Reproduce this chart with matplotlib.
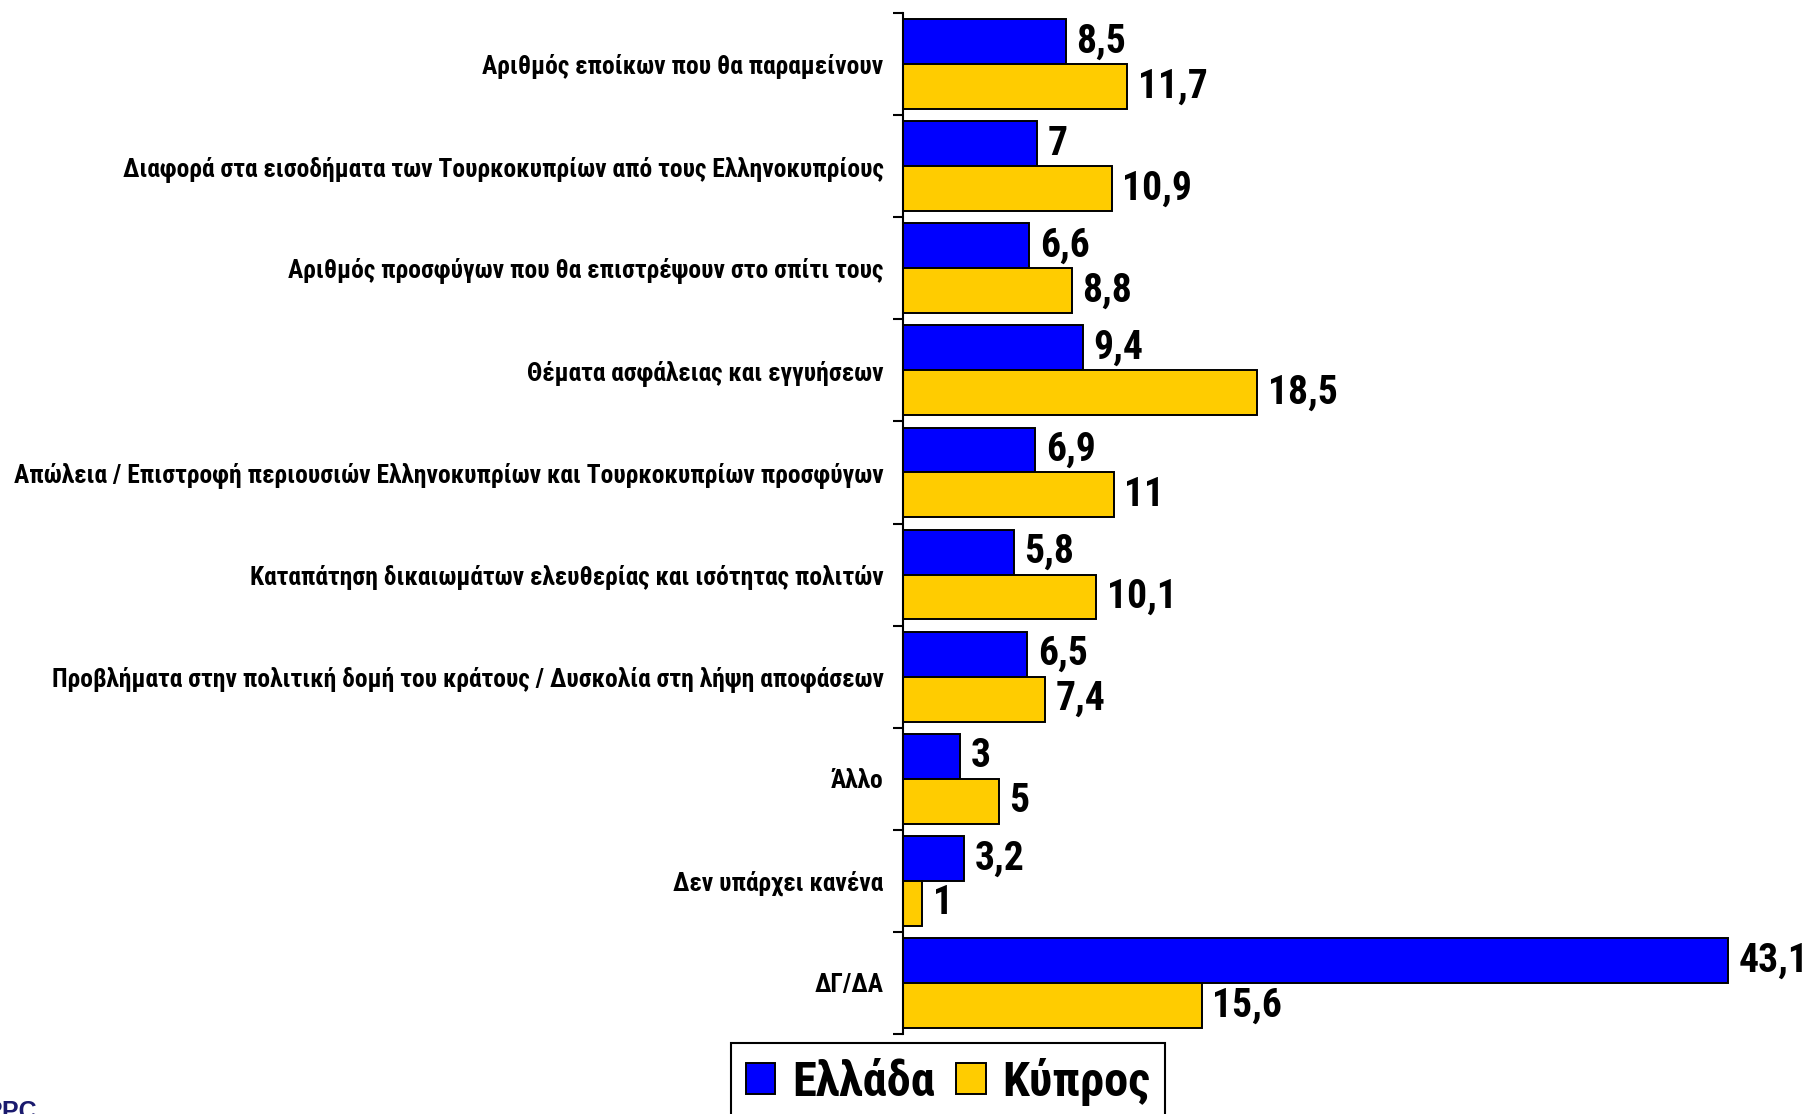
import matplotlib
matplotlib.use("Agg")
import matplotlib.pyplot as plt
import numpy as np
from matplotlib.patches import Patch

categories = [
    "Αριθμός εποίκων που θα παραμείνουν",
    "Διαφορά στα εισοδήματα των Τουρκοκυπρίων από τους Ελληνοκυπρίους",
    "Αριθμός προσφύγων που θα επιστρέψουν στο σπίτι τους",
    "Θέματα ασφάλειας και εγγυήσεων",
    "Απώλεια / Επιστροφή περιουσιών Ελληνοκυπρίων και Τουρκοκυπρίων προσφύγων",
    "Καταπάτηση δικαιωμάτων ελευθερίας και ισότητας πολιτών",
    "Προβλήματα στην πολιτική δομή του κράτους / Δυσκολία στη λήψη αποφάσεων",
    "Άλλο",
    "Δεν υπάρχει κανένα",
    "ΔΓ/ΔΑ",
]
greece = [8.5, 7, 6.6, 9.4, 6.9, 5.8, 6.5, 3, 3.2, 43.1]
cyprus = [11.7, 10.9, 8.8, 18.5, 11, 10.1, 7.4, 5, 1, 15.6]
series_names = ["Ελλάδα", "Κύπρος"]

FONT = ["Roboto Condensed", "Liberation Sans", "DejaVu Sans"]
plt.rcParams["font.family"] = FONT

W, H = 1808, 1114
fig = plt.figure(figsize=(W / 100, H / 100), dpi=100)
ax = fig.add_axes([903 / W, 1 - 1034 / H, 1 - 903 / W, (1034 - 13) / H])

y = np.arange(len(categories))
bh = 0.44
blue = "#0000FF"
yellow = "#FFCC00"
b1 = ax.barh(y - bh / 2, greece, height=bh, color=blue, edgecolor="black", linewidth=1.4)
b2 = ax.barh(y + bh / 2, cyprus, height=bh, color=yellow, edgecolor="black", linewidth=1.4)

def fmt(v):
    return ("%g" % v).replace(".", ",")

for bars, vals in ((b1, greece), (b2, cyprus)):
    for rect, v in zip(bars, vals):
        ax.text(rect.get_width() + 0.55, rect.get_y() + rect.get_height() / 2, fmt(v),
                va="center", ha="left", fontsize=28.5, fontweight="bold", color="black")

ax.set_xlim(0, (W - 903) / 19.15)
ax.set_ylim(len(categories) - 0.5, -0.5)
ax.set_yticks(y)
ax.set_yticklabels(categories, fontsize=18.4, fontweight="bold")
ax.set_yticks(np.arange(len(categories) + 1) - 0.5, minor=True)
ax.tick_params(axis="y", which="major", length=0, pad=14)
ax.tick_params(axis="y", which="minor", length=7, width=1.5, direction="out")
ax.set_xticks([])
for s in ("top", "right", "bottom"):
    ax.spines[s].set_visible(False)
ax.spines["left"].set_linewidth(1.5)

handles = [Patch(facecolor=blue, edgecolor="black", linewidth=1.4),
           Patch(facecolor=yellow, edgecolor="black", linewidth=1.4)]
leg = fig.legend(handles, series_names, loc="upper left",
                 bbox_to_anchor=(731 / W, 1 - 1043 / H), ncol=2,
                 prop={"family": FONT, "weight": "bold", "size": 35},
                 frameon=True, fancybox=False, framealpha=1, edgecolor="black",
                 handlelength=0.6, handleheight=0.6, handletextpad=0.35,
                 columnspacing=0.45, borderpad=0.3, borderaxespad=0)
leg.get_frame().set_linewidth(1.5)

fig.text(37 / W, 1 - 1100 / H, "RPC", ha="right", va="top", fontsize=18,
         fontweight="bold", color="#1a1a6e", family=["Liberation Sans", "DejaVu Sans"])

fig.savefig("out.png", dpi=100)
